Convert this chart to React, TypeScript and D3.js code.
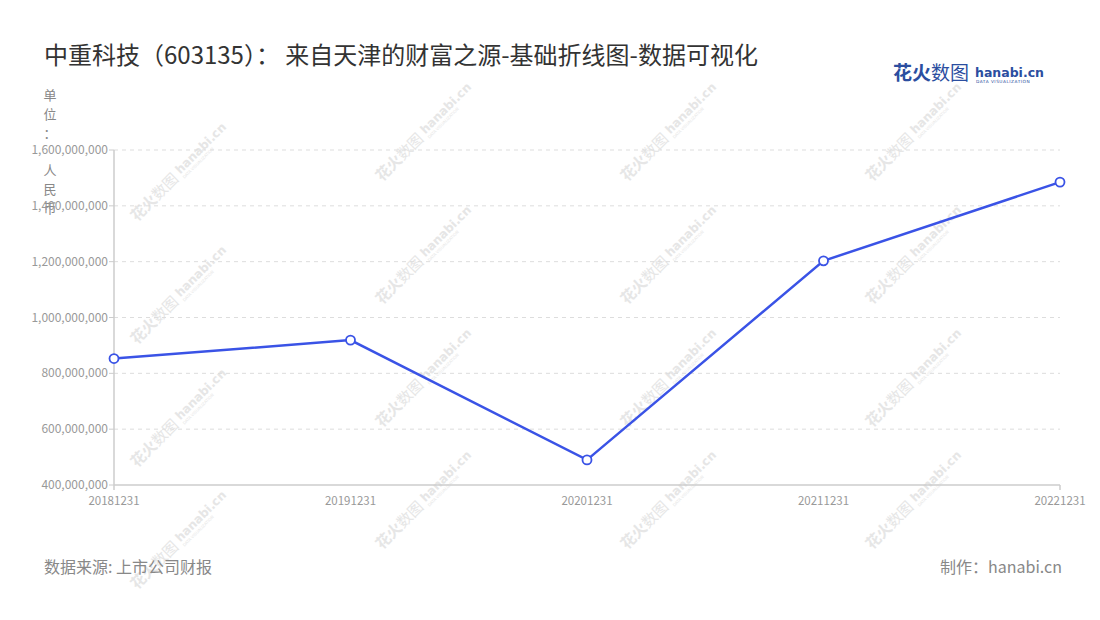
import React from "react";
import * as d3 from "d3";

const categories = ["20181231", "20191231", "20201231", "20211231", "20221231"];
const values = [853000000, 919000000, 490000000, 1203000000, 1485000000];
const yTicks = [400000000, 600000000, 800000000, 1000000000, 1200000000, 1400000000, 1600000000];
const unitChars = ["单", "位", "：", "", "人", "民", "币"];

const W = 1100, H = 620;
const left = 114, right = 1060, top = 150, bottom = 485;
const FONT = "'Noto Sans CJK SC', 'Noto Sans', sans-serif";

const wmCols = [
  { x: 137, ys: [222, 345, 468, 590] },
  { x: 382, ys: [182, 305, 428, 550] },
  { x: 627, ys: [182, 305, 428, 550] },
  { x: 872, ys: [182, 305, 428, 550] },
];

function Watermark({ x, y }: { x: number; y: number }) {
  return (
    <g transform={`translate(${x},${y}) rotate(-45)`} fill="#e6e6e6">
      <text x={0} y={0} fontSize={15} fontWeight={700}>花火<tspan fontWeight={400}>数图</tspan></text>
      <text x={64} y={-3} fontSize={12} fontWeight={700} fontFamily="'DejaVu Sans', sans-serif">hanabi.cn</text>
      <text x={64} y={3} fontSize={4} fontFamily="'DejaVu Sans', sans-serif">DATA VISUALIZATION</text>
    </g>
  );
}

export default function App() {
  const x = d3.scalePoint<string>().domain(categories).range([left, right]);
  const y = d3.scaleLinear().domain([400000000, 1600000000]).range([bottom, top]);
  const fmt = d3.format(",");
  const line = d3.line<number>().x((_, i) => x(categories[i])!).y((d) => y(d));

  return (
    <svg width={W} height={H} style={{ position: "absolute", left: 0, top: 0, background: "#fff" }} fontFamily={FONT}>
      <rect width={W} height={H} fill="#fff" />
      {wmCols.map((c) => c.ys.map((wy) => <Watermark key={c.x + "-" + wy} x={c.x} y={wy} />))}
      <text x={44} y={64} fontSize={24} fill="#333">中重科技（603135）： 来自天津的财富之源-基础折线图-数据可视化</text>
      {/* logo */}
      <g>
        <text x={893} y={80} fontSize={19} fontWeight={700} fill="#2b4ea0">花火<tspan fontWeight={400}>数图</tspan></text>
        <text x={975} y={77} fontSize={12.5} fontWeight={700} fill="#2b4ea0" fontFamily="'DejaVu Sans', sans-serif">hanabi.cn</text>
        <text x={976} y={83} fontSize={4.3} fill="#2b4ea0" fontFamily="'DejaVu Sans', sans-serif" letterSpacing={0.5}>DATA VISUALIZATION</text>
      </g>
      {/* unit label */}
      {unitChars.map((c, i) => (
        <text key={i} x={50} y={100 + i * 18.8} fontSize={13} fill="#888" textAnchor="middle">{c}</text>
      ))}
      {/* grid */}
      {yTicks.map((t) => (
        <g key={t}>
          {t !== 400000000 && (
            <line x1={left} x2={right} y1={y(t)} y2={y(t)} stroke="#ddd" strokeDasharray="4 4" />
          )}
          <line x1={left - 5} x2={left} y1={y(t)} y2={y(t)} stroke="#ccc" />
          <text x={left - 6} y={y(t) + 4} fontSize={12} fill="#999" textAnchor="end">{fmt(t)}</text>
        </g>
      ))}
      <line x1={left} x2={left} y1={top} y2={bottom + 5} stroke="#ccc" strokeWidth={1.5} />
      <line x1={left} x2={right} y1={bottom} y2={bottom} stroke="#ccc" strokeWidth={1.5} />
      <line x1={right} x2={right} y1={bottom} y2={bottom + 5} stroke="#ccc" strokeWidth={1.5} />
      {categories.map((c) => (
        <text key={c} x={x(c)} y={505} fontSize={11.5} fill="#999" textAnchor="middle">{c}</text>
      ))}
      <path d={line(values) || ""} fill="none" stroke="#3a53e6" strokeWidth={2.5} />
      {values.map((v, i) => (
        <circle key={i} cx={x(categories[i])} cy={y(v)} r={4.5} fill="#fff" stroke="#3a53e6" strokeWidth={1.8} />
      ))}
      <text x={44} y={573} fontSize={16} fill="#888">数据来源: 上市公司财报</text>
      <text x={1062} y={573} fontSize={16} fill="#888" textAnchor="end">制作：hanabi.cn</text>
    </svg>
  );
}
